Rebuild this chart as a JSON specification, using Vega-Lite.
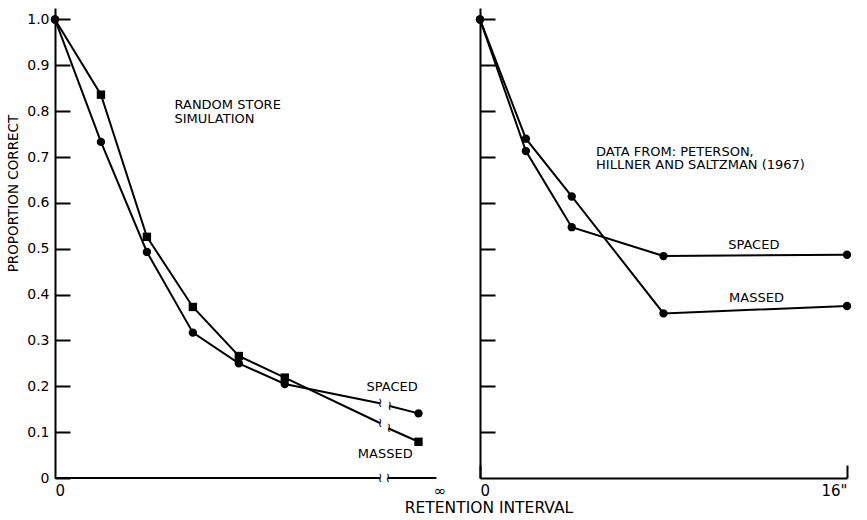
{
  "$schema": "https://vega.github.io/schema/vega-lite/v6.json",
  "background": "white",
  "padding": {"left": 6, "top": 8, "right": 10, "bottom": 4},
  "bounds": "flush",
  "spacing": 39,
  "config": {
    "view": {"stroke": null},
    "font": "DejaVu Sans",
    "axis": {
      "grid": false,
      "domainColor": "black",
      "domainWidth": 2,
      "tickColor": "black",
      "tickWidth": 2,
      "labelColor": "black",
      "labelFont": "DejaVu Sans",
      "labelFontSize": 14,
      "titleColor": "black",
      "titleFont": "DejaVu Sans",
      "titleFontWeight": "normal",
      "titleFontSize": 13.5
    }
  },
  "title": {
    "text": "RETENTION INTERVAL",
    "orient": "bottom",
    "anchor": "middle",
    "fontSize": 15.5,
    "fontWeight": "normal",
    "font": "DejaVu Sans",
    "color": "black",
    "offset": 3,
    "dx": 60
  },
  "datasets": {
    "left": [
      {"series": "massed", "seg": "m1", "x": 0, "y": 1.0, "shape": "circle"},
      {"series": "massed", "seg": "m1", "x": 1, "y": 0.836, "shape": "square"},
      {"series": "massed", "seg": "m1", "x": 2, "y": 0.526, "shape": "square"},
      {"series": "massed", "seg": "m1", "x": 3, "y": 0.373, "shape": "square"},
      {"series": "massed", "seg": "m1", "x": 4, "y": 0.266, "shape": "square"},
      {"series": "massed", "seg": "m1", "x": 5, "y": 0.219, "shape": "square"},
      {"series": "massed", "seg": "m1", "x": 7.07, "y": 0.12, "shape": null},
      {"series": "massed", "seg": "m2", "x": 7.26, "y": 0.108, "shape": null},
      {"series": "massed", "seg": "m2", "x": 7.91, "y": 0.079, "shape": "square"},
      {"series": "spaced", "seg": "s1", "x": 0, "y": 1.0, "shape": "circle"},
      {"series": "spaced", "seg": "s1", "x": 1, "y": 0.733, "shape": "circle"},
      {"series": "spaced", "seg": "s1", "x": 2, "y": 0.493, "shape": "circle"},
      {"series": "spaced", "seg": "s1", "x": 3, "y": 0.317, "shape": "circle"},
      {"series": "spaced", "seg": "s1", "x": 4, "y": 0.25, "shape": "circle"},
      {"series": "spaced", "seg": "s1", "x": 5, "y": 0.205, "shape": "circle"},
      {"series": "spaced", "seg": "s1", "x": 7.07, "y": 0.163, "shape": null},
      {"series": "spaced", "seg": "s2", "x": 7.28, "y": 0.157, "shape": null},
      {"series": "spaced", "seg": "s2", "x": 7.91, "y": 0.141, "shape": "circle"}
    ],
    "leftaxis": [
      {"seg": "a1", "x": 0, "y": 0},
      {"seg": "a1", "x": 7.07, "y": 0},
      {"seg": "a2", "x": 7.24, "y": 0},
      {"seg": "a2", "x": 8.3, "y": 0}
    ],
    "breaks": [
      {"x": 7.07, "y": 0.163},
      {"x": 7.28, "y": 0.157},
      {"x": 7.07, "y": 0.12},
      {"x": 7.26, "y": 0.108},
      {"x": 7.07, "y": 0},
      {"x": 7.24, "y": 0}
    ],
    "leftlabels": [
      {"x": 2.6, "y": 0.813, "label": "RANDOM STORE\nSIMULATION"},
      {"x": 6.78, "y": 0.198, "label": "SPACED"},
      {"x": 6.59, "y": 0.052, "label": "MASSED"}
    ],
    "right": [
      {"series": "spaced", "x": 0, "y": 1.0},
      {"series": "spaced", "x": 2, "y": 0.713},
      {"series": "spaced", "x": 4, "y": 0.547},
      {"series": "spaced", "x": 8, "y": 0.484},
      {"series": "spaced", "x": 16, "y": 0.487},
      {"series": "massed", "x": 0, "y": 1.0},
      {"series": "massed", "x": 2, "y": 0.74},
      {"series": "massed", "x": 4, "y": 0.614},
      {"series": "massed", "x": 8, "y": 0.359},
      {"series": "massed", "x": 16, "y": 0.375}
    ],
    "rightlabels": [
      {"x": 5.06, "y": 0.711, "label": "DATA FROM: PETERSON,\nHILLNER AND SALTZMAN (1967)"},
      {"x": 10.82, "y": 0.508, "label": "SPACED"},
      {"x": 10.86, "y": 0.393, "label": "MASSED"}
    ]
  },
  "hconcat": [
    {
      "width": 386,
      "height": 470,
      "layer": [
        {
          "data": {"name": "left"},
          "mark": {"type": "line", "color": "black", "strokeWidth": 2},
          "encoding": {
            "x": {
              "field": "x", "type": "quantitative",
              "scale": {"domain": [0, 8.4], "nice": false, "zero": false},
              "axis": {
                "title": null, "domain": false, "ticks": false,
                "values": [0, 8.37],
                "labelExpr": "datum.value == 0 ? '0' : '∞'",
                "labelPadding": 5,
                "labelFontSize": 15
              }
            },
            "y": {
              "field": "y", "type": "quantitative",
              "scale": {"domain": [0, 1.025], "nice": false},
              "axis": {
                "title": "PROPORTION CORRECT",
                "values": [0, 0.1, 0.2, 0.3, 0.4, 0.5, 0.6, 0.7, 0.8, 0.9, 1.0],
                "labelExpr": "datum.value == 0 ? '0' : format(datum.value, '.1f')",
                "tickSize": -15,
                "labelPadding": 21,
                "titlePadding": 6,
                "titleY": 185
              }
            },
            "detail": {"field": "seg"}
          }
        },
        {
          "data": {"name": "leftaxis"},
          "mark": {"type": "line", "color": "black", "strokeWidth": 2},
          "encoding": {
            "x": {"field": "x", "type": "quantitative"},
            "y": {"field": "y", "type": "quantitative"},
            "detail": {"field": "seg"}
          }
        },
        {
          "data": {"name": "left"},
          "transform": [{"filter": "datum.shape != null"}],
          "mark": {"type": "point", "filled": true, "color": "black", "opacity": 1, "size": 70},
          "encoding": {
            "x": {"field": "x", "type": "quantitative"},
            "y": {"field": "y", "type": "quantitative"},
            "shape": {"field": "shape", "type": "nominal", "scale": {"domain": ["circle", "square"], "range": ["circle", "square"]}, "legend": null}
          }
        },
        {
          "data": {"name": "breaks"},
          "mark": {"type": "text", "text": "≀", "fontSize": 13, "color": "black", "baseline": "middle", "align": "center"},
          "encoding": {
            "x": {"field": "x", "type": "quantitative"},
            "y": {"field": "y", "type": "quantitative"}
          }
        },
        {
          "data": {"name": "leftlabels"},
          "mark": {"type": "text", "fontSize": 13, "color": "black", "align": "left", "baseline": "middle", "font": "DejaVu Sans", "lineBreak": "\n", "lineHeight": 13.5},
          "encoding": {
            "x": {"field": "x", "type": "quantitative"},
            "y": {"field": "y", "type": "quantitative"},
            "text": {"field": "label"}
          }
        }
      ]
    },
    {
      "width": 367,
      "height": 470,
      "layer": [
        {
          "data": {"name": "right"},
          "mark": {"type": "line", "color": "black", "strokeWidth": 2},
          "encoding": {
            "x": {
              "field": "x", "type": "quantitative",
              "scale": {"domain": [0, 16], "nice": false},
              "axis": {
                "title": null,
                "values": [0, 16],
                "labelExpr": "datum.value == 16 ? '16\"' : '0'",
                "tickSize": -13,
                "labelPadding": 18,
                "labelFontSize": 15
              }
            },
            "y": {
              "field": "y", "type": "quantitative",
              "scale": {"domain": [0, 1.025], "nice": false},
              "axis": {
                "title": null,
                "labels": false,
                "values": [0.1, 0.2, 0.3, 0.4, 0.5, 0.6, 0.7, 0.8, 0.9, 1.0],
                "tickSize": -15
              }
            },
            "detail": {"field": "series"}
          }
        },
        {
          "data": {"name": "right"},
          "mark": {"type": "circle", "color": "black", "opacity": 1, "size": 70},
          "encoding": {
            "x": {"field": "x", "type": "quantitative"},
            "y": {"field": "y", "type": "quantitative"}
          }
        },
        {
          "data": {"name": "rightlabels"},
          "mark": {"type": "text", "fontSize": 13, "color": "black", "align": "left", "baseline": "middle", "font": "DejaVu Sans", "lineBreak": "\n", "lineHeight": 13.5},
          "encoding": {
            "x": {"field": "x", "type": "quantitative"},
            "y": {"field": "y", "type": "quantitative"},
            "text": {"field": "label"}
          }
        }
      ]
    }
  ]
}
